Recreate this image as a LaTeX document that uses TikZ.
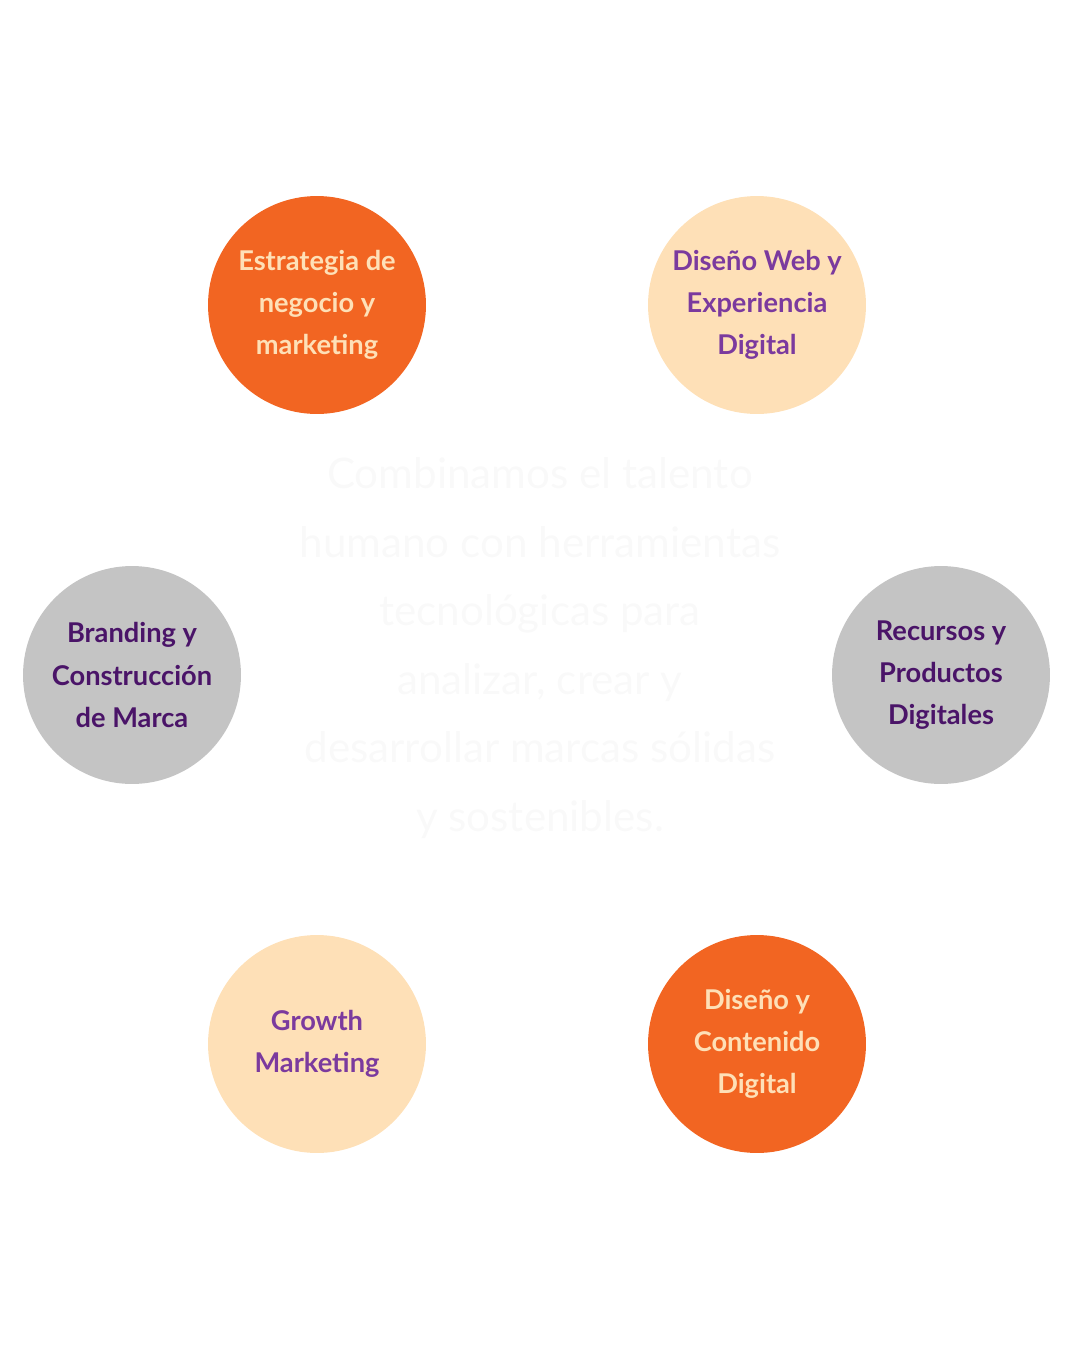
\documentclass[tikz,border=0pt]{standalone}
\usepackage{fontspec}
\setmainfont{Lato}
\definecolor{orng}{HTML}{F26522}
\definecolor{peach}{HTML}{FEE0B7}
\definecolor{greyc}{HTML}{C4C4C4}
\definecolor{purp}{HTML}{7B3A9E}
\definecolor{dpurp}{HTML}{4A1468}
\definecolor{faint}{HTML}{F9F9F9}
\begin{document}
\begin{tikzpicture}[x=0.02cm,y=-0.02cm,
 circ/.style={circle,minimum size=4.36cm,inner sep=0pt,align=center,font=\fontsize{15.5}{24}\selectfont\bfseries},
 orangec/.style={circ,fill=orng,text=peach},
 peachc/.style={circ,fill=peach,text=purp},
 greyc/.style={circ,fill=greyc,text=dpurp}]
\useasboundingbox (0,0) rectangle (1080,1350);
\node[orangec] (a) at (317,305) {Estrategia de\\negocio y\\marketing};
\node[peachc] (b) at (757,305) {Diseño Web y\\Experiencia\\Digital};
\node[greyc] (c) at (132,675) {Branding y\\Construcción\\de Marca};
\node[greyc] (d) at (941,675) {Recursos y\\Productos\\Digitales};
\node[peachc] (e) at (317,1044) {Growth\\Marketing};
\node[orangec] (f) at (757,1044) {Diseño y\\Contenido\\Digital};
\node[text=faint,align=center,font=\fontsize{24}{39}\selectfont] (t) at (540,648) {Combinamos el talento\\humano con herramientas\\tecnológicas para\\analizar, crear y\\desarrollar marcas sólidas\\y sostenibles.};
\end{tikzpicture}
\end{document}
